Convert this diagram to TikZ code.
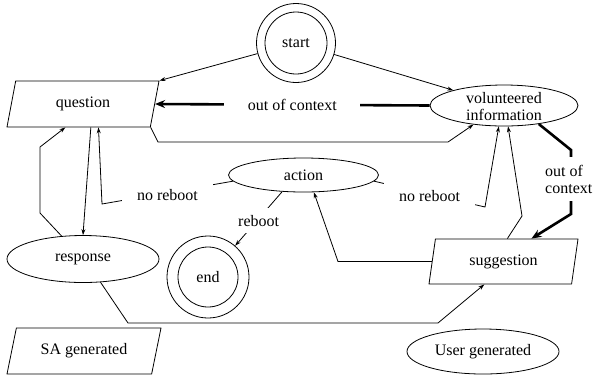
\documentclass[tikz,border=0pt]{standalone}
\usepackage{fontspec}
\setmainfont{Liberation Serif}
\usetikzlibrary{shapes.geometric,arrows.meta,calc}
\begin{document}
\begin{tikzpicture}[x=1pt,y=-1pt,
  every node/.style={font=\fontsize{16}{17}\selectfont},
  ln/.style={line width=0.8pt},
  arr/.style={ln,-{Stealth[length=6pt,width=4pt]}},
  tarr/.style={line width=2.6pt,-{Stealth[length=10pt,width=8pt]}},
  elli/.style={ellipse,draw,line width=0.8pt,inner sep=1pt},
  para/.style={trapezium,draw,line width=0.8pt,trapezium stretches body,inner sep=1pt},
  ring/.style={circle,draw,line width=0.8pt,inner sep=0pt},
  lbl/.style={fill=white,inner xsep=15pt,inner ysep=7pt},
]
\useasboundingbox (0,0) rectangle (593,376);

% nodes
\node[ring,minimum size=79pt] (start) at (296,43) {};
\node[ring,minimum size=62pt] (startin) at (start) {start};
\node[para,trapezium left angle=61.5,trapezium right angle=118.5,minimum width=152pt,minimum height=46pt] (question) at (83,104) {question};
\node[elli,minimum width=148pt,minimum height=41pt,label={[align=center,yshift=-1.5pt]center:volunteered\\information}] (vol) at (504,105.5) {};
\node[elli,minimum width=150pt,minimum height=34pt] (action) at (303.5,175) {action};
\node[elli,minimum width=152pt,minimum height=47pt] (response) at (83,259) {response};
\node[ring,minimum size=82pt] (end) at (208,277) {};
\node[ring,minimum size=60pt] (endin) at (end) {end};
\node[para,trapezium left angle=68.2,trapezium right angle=111.8,minimum width=149pt,minimum height=45pt] (sugg) at (503.5,261.5) {suggestion};
\node[para,trapezium left angle=60.5,trapezium right angle=119.5,minimum width=154pt,minimum height=46pt] (sa) at (84,351) {SA generated};
\node[elli,minimum width=152pt,minimum height=45pt] (user) at (483,351.5) {User generated};

% attachment points on parallelogram sides
\coordinate (qB60) at ($(question.bottom left corner)!0.408!(question.bottom right corner)$);
\coordinate (qB83) at ($(question.bottom left corner)!0.585!(question.bottom right corner)$);
\coordinate (qB90) at ($(question.bottom left corner)!0.638!(question.bottom right corner)$);
\coordinate (qE) at ($(question.top right corner)!0.5!(question.bottom right corner)$);
\coordinate (sB) at ($(sugg.bottom left corner)!0.389!(sugg.bottom right corner)$);
\coordinate (sT) at ($(sugg.top left corner)!0.504!(sugg.top right corner)$);
\coordinate (sT2) at ($(sugg.top left corner)!0.672!(sugg.top right corner)$);
\coordinate (sW) at ($(sugg.top left corner)!0.5!(sugg.bottom left corner)$);

% connectors
\draw[arr] (start) -- (question.top right corner);
\draw[arr] (start) -- (vol);
\draw[tarr] (vol.west) -- node[lbl,inner xsep=23.5pt]{out of context} (qE);
\draw[arr] (question.bottom right corner) -- (158,142) -- (448,142) -- (vol.212);
\draw[tarr] (vol.-28) -- (571,150) -- (571,214) -- (sT2);
\node[fill=white,anchor=west,align=left,inner xsep=0pt,inner ysep=8pt] (ooc) at (545,179) {out of\\context};
\draw[arr] (qB83) -- (response.north);
\draw[arr] (action.185) -- node[lbl,yshift=-2pt]{no reboot} (102,204) -- (qB90);
\draw[arr] (action.-5) -- node[lbl,yshift=-2pt]{no reboot} (485,207) -- (vol.256);
\draw[arr] (action.218) -- node[lbl,inner xsep=3pt,yshift=-2pt]{reboot} (end);
\draw[arr] (response.133) -- (40,213) -- (40,147) -- (qB60);
\draw[arr] (response.-53) -- (128,323) -- (438,323) -- (sB);
\draw[arr] (sW) -- (338,261.5) -- (action.-59);
\draw[arr] (sT) -- (522,216) -- (vol.-79);
\end{tikzpicture}
\end{document}
